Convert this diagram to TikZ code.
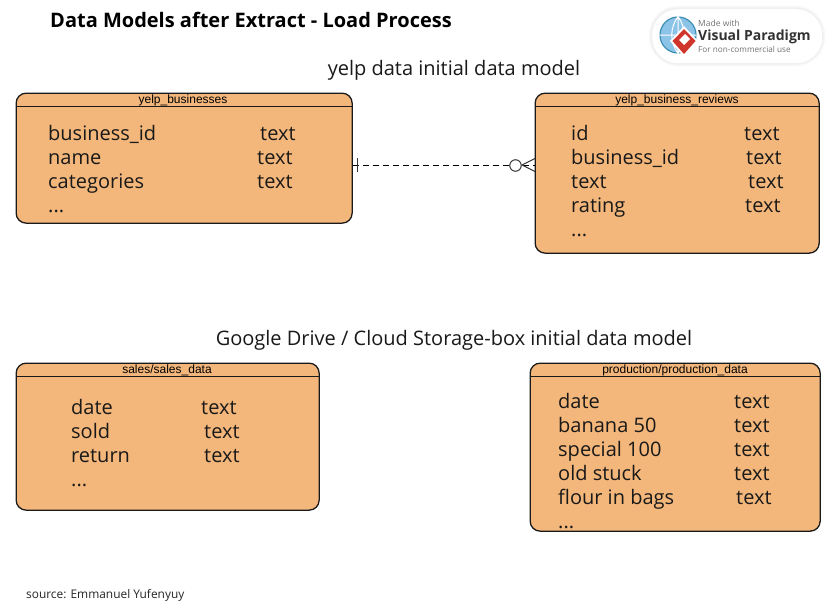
\documentclass[tikz,border=0pt]{standalone}
\usepackage{fontspec}
\setmainfont{Open Sans}
\newfontfamily\hdrfont{Liberation Sans}
\definecolor{entfill}{HTML}{F4B77B}
\definecolor{entline}{HTML}{1A1A1A}
\definecolor{globeblue}{HTML}{8CC4E8}
\definecolor{globeline}{HTML}{3C8FB4}
\definecolor{logored}{HTML}{D0352B}
\tikzset{
  x=1pt,y=-1pt,
  entity/.style={draw=entline,fill=entfill,line width=1.3pt,rounded corners=10pt,anchor=north west,inner sep=0pt},
  hdrline/.style={draw=entline,line width=1pt},
  hdr/.style={font=\hdrfont\fontsize{12}{12}\selectfont,text=black,inner sep=0pt,anchor=center},
  attr/.style={font=\fontsize{20}{22}\selectfont,text=black!90,inner sep=0pt,anchor=base west},
  ttl/.style={font=\fontsize{20}{22}\selectfont,text=black!90,inner sep=0pt,anchor=base},
  conn/.style={draw=black,line width=1pt,dash pattern=on 6pt off 4pt},
  sym/.style={draw=black!80,line width=1pt},
}
\newcommand{\attrow}[4]{%
  \node[attr] (#1n) at (#2,#4) {#3};}
\begin{document}
\begin{tikzpicture}
\useasboundingbox (0,0) rectangle (830,603);
\fill[white] (0,0) rectangle (830,603);

\node[font=\bfseries\fontsize{20}{22}\selectfont,inner sep=0pt,anchor=base west] (maintitle) at (50,27) {Data Models after Extract - Load Process};
\node[ttl] (t1) at (454,75) {yelp data initial data model};
\node[ttl] (t2) at (454,345) {Google Drive / Cloud Storage-box initial data model};
\node[font=\fontsize{11.9}{14}\selectfont,inner sep=0pt,anchor=base west,text=black!85] (src) at (26,598) {source: Emmanuel Yufenyuy};

% logo
\fill[black!3,rounded corners=29pt] (649,6) rectangle (825,66);
\fill[black!6,rounded corners=27.5pt] (650.5,7.5) rectangle (823.5,64.5);
\node[fill=white,rounded corners=26pt,minimum width=170pt,minimum height=54pt,inner sep=0pt,anchor=north west] (logo) at (652,9) {};
\node[circle,draw=globeline,line width=1.2pt,fill=globeblue,minimum size=36pt,inner sep=0pt] (globe) at (678,35) {};
\draw[white,line width=1pt] (globe.north) to[bend left=35] (globe.south) (globe.north) to[bend right=35] (globe.south) (globe.north) -- (globe.south) (globe.west) -- (globe.east);
\fill[white] (684,26) -- (698,41) -- (684,57) -- (670,41) -- cycle;
\fill[logored] (684,29) -- (695.5,41) -- (684,54) -- (672.5,41) -- cycle;
\fill[white] (685,34) -- (690,39) -- (684,45) -- (679,40) -- cycle;
\node[font=\fontsize{8.5}{10}\selectfont,inner sep=0pt,anchor=base west,text=black!55] (lg1) at (698,26) {Made with};
\node[font=\bfseries\fontsize{14}{16}\selectfont,inner sep=0pt,anchor=base west,text=black!80] (lg2) at (698,40) {Visual Paradigm};
\node[font=\fontsize{8.2}{10}\selectfont,inner sep=0pt,anchor=base west,text=black!55] (lg3) at (698,52) {For non-commercial use};

% yelp_businesses
\node[entity,minimum width=336pt,minimum height=130pt] (biz) at (15.5,92.5) {};
\coordinate (bizh) at (0,106.5);
\draw[hdrline] (biz.west |- bizh) -- (biz.east |- bizh);
\node[hdr] (bizt) at (183,100) {yelp\_businesses};
\attrow{a1}{48}{business\_id}{140}
\attrow{a2}{48}{name}{164}
\attrow{a3}{48}{categories}{188}
\attrow{a4}{48}{...}{212}
\attrow{a5}{260}{text}{140}
\attrow{a6}{257}{text}{164}
\attrow{a7}{257}{text}{188}

% yelp_business_reviews
\node[entity,minimum width=284pt,minimum height=160pt] (rev) at (534.5,92.5) {};
\coordinate (revh) at (0,106.5);
\draw[hdrline] (rev.west |- revh) -- (rev.east |- revh);
\node[hdr] (revt) at (677,100) {yelp\_business\_reviews};
\attrow{b1}{571}{id}{140}
\attrow{b2}{571}{business\_id}{164}
\attrow{b3}{571}{text}{188}
\attrow{b4}{571}{rating}{212}
\attrow{b5}{571}{...}{236}
\attrow{b6}{744}{text}{140}
\attrow{b7}{746}{text}{164}
\attrow{b8}{748}{text}{188}
\attrow{b9}{745}{text}{212}

% sales
\node[entity,minimum width=303pt,minimum height=147pt] (sal) at (15.5,362.5) {};
\coordinate (salh) at (0,376.5);
\draw[hdrline] (sal.west |- salh) -- (sal.east |- salh);
\node[hdr] (salt) at (167,370.5) {sales/sales\_data};
\attrow{c1}{71}{date}{414}
\attrow{c2}{71}{sold}{438}
\attrow{c3}{71}{return}{462}
\attrow{c4}{71}{...}{486}
\attrow{c5}{201}{text}{414}
\attrow{c6}{204}{text}{438}
\attrow{c7}{204}{text}{462}

% production
\node[entity,minimum width=290pt,minimum height=168pt] (pro) at (529.5,362.5) {};
\coordinate (proh) at (0,376.5);
\draw[hdrline] (pro.west |- proh) -- (pro.east |- proh);
\node[hdr] (prot) at (675,370.5) {production/production\_data};
\attrow{d1}{558}{date}{408}
\attrow{d2}{558}{banana 50}{432}
\attrow{d3}{558}{special 100}{456}
\attrow{d4}{558}{old stuck}{480}
\attrow{d5}{558}{flour in bags}{504}
\attrow{d6}{558}{...}{528}
\attrow{d7}{734}{text}{408}
\attrow{d8}{734}{text}{432}
\attrow{d9}{734}{text}{456}
\attrow{d10}{734}{text}{480}
\attrow{d11}{736}{text}{504}

% connector
\coordinate (cy) at (0,165);
\coordinate (cs) at (biz.east |- cy);
\coordinate (ce) at (rev.west |- cy);
\draw[conn] (cs) -- (ce);
\draw[sym] (357.5,158) -- (357.5,172);
\draw[sym] (522,165) -- (535,158.5) (522,165) -- (535,171.5);
\node[circle,draw=black!80,line width=1pt,fill=white,minimum size=11.5pt,inner sep=0pt] (crow) at (515.5,165.5) {};
\end{tikzpicture}
\end{document}
